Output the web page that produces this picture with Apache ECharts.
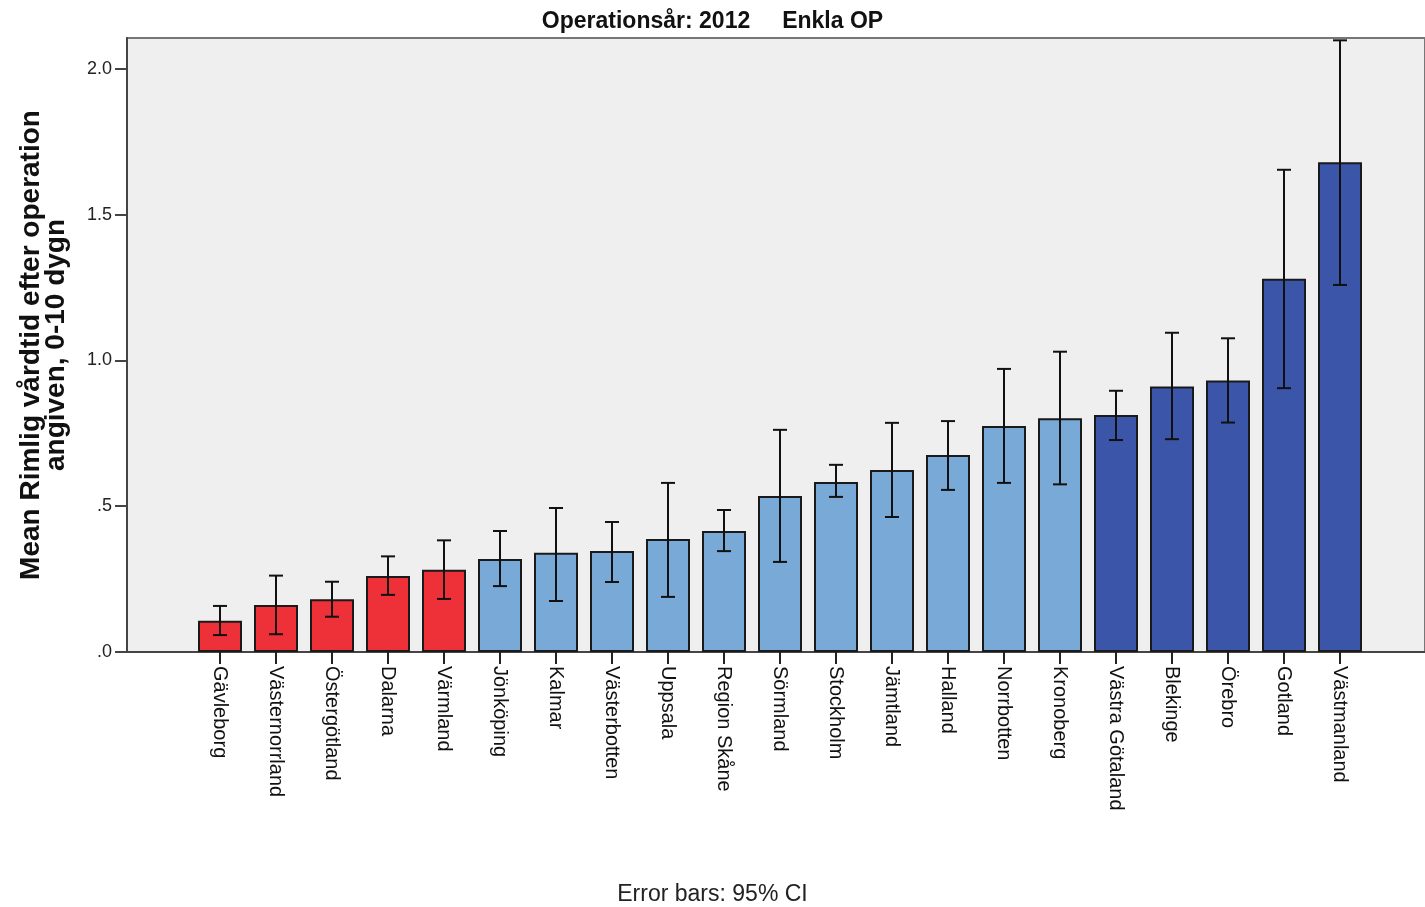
<!DOCTYPE html>
<html>
<head>
<meta charset="utf-8">
<title>Rimlig vårdtid efter operation – 2012, Enkla OP</title>
<script src="https://cdn.jsdelivr.net/npm/echarts@6/dist/echarts.min.js"></script>
<style>
  html, body { margin: 0; padding: 0; background: #ffffff; }
  #chart { width: 1425px; height: 907px; }
</style>
</head>
<body>
<div id="chart"></div>
<script>
// Regions ordered by mean, with 95% confidence limits
const regions = ['Gävleborg', 'Västernorrland', 'Östergötland', 'Dalarna', 'Värmland',
  'Jönköping', 'Kalmar', 'Västerbotten', 'Uppsala', 'Region Skåne', 'Sörmland',
  'Stockholm', 'Jämtland', 'Halland', 'Norrbotten', 'Kronoberg',
  'Västra Götaland', 'Blekinge', 'Örebro', 'Gotland', 'Västmanland'];
const means  = [0.107, 0.161, 0.181, 0.261, 0.282, 0.319, 0.340, 0.346, 0.388, 0.415, 0.535,
  0.583, 0.624, 0.676, 0.775, 0.802, 0.813, 0.911, 0.931, 1.280, 1.680];
const ciLow  = [0.058, 0.061, 0.121, 0.196, 0.182, 0.226, 0.175, 0.240, 0.189, 0.346, 0.309,
  0.532, 0.463, 0.556, 0.580, 0.575, 0.727, 0.730, 0.787, 0.905, 1.259];
const ciHigh = [0.158, 0.262, 0.241, 0.328, 0.383, 0.415, 0.494, 0.446, 0.580, 0.487, 0.762,
  0.642, 0.786, 0.792, 0.971, 1.030, 0.896, 1.095, 1.076, 1.654, 2.098];
// Colour group per region: low / middle / high
const groups = ['low', 'low', 'low', 'low', 'low',
  'mid', 'mid', 'mid', 'mid', 'mid', 'mid', 'mid', 'mid', 'mid', 'mid', 'mid',
  'high', 'high', 'high', 'high', 'high'];
const yTicks = [0, 0.5, 1, 1.5, 2];
const yTickLabels = ['.0', '.5', '1.0', '1.5', '2.0'];

const groupColors = { low: '#ee3039', mid: '#79a9d6', high: '#3b55a8' };
const Y_MAX = 2.106;
const FONT = '"Liberation Sans", Arial, Helvetica, sans-serif';

const chart = echarts.init(document.getElementById('chart'), null, { renderer: 'canvas' });

const option = {
  backgroundColor: '#ffffff',
  animation: false,
  title: {
    text: 'Operationsår: 2012     Enkla OP',
    left: 'center',
    top: 5,
    textStyle: { fontFamily: FONT, fontSize: 23, fontWeight: 'bold', color: '#111' }
  },
  graphic: [{
    type: 'text',
    left: 'center',
    top: 883,
    style: { text: 'Error bars: 95% CI', font: '23px ' + FONT, fill: '#222' }
  }],
  grid: [
    // frame with shaded background and the value axis
    { left: 127, top: 38, right: -3, bottom: 255, show: true,
      backgroundColor: '#efefef', borderColor: '#777', borderWidth: 2 },
    // band area holding the bars
    { left: 192, top: 38, width: 1176, bottom: 255 }
  ],
  xAxis: [
    { gridIndex: 0, type: 'value', min: 0, max: 1,
      axisLine: { show: true, onZero: false, lineStyle: { color: '#444', width: 2 } },
      axisTick: { show: false }, axisLabel: { show: false }, splitLine: { show: false } },
    { gridIndex: 1, type: 'category', data: regions,
      axisLine: { show: false },
      axisTick: { show: true, alignWithLabel: true, length: 12, lineStyle: { color: '#222', width: 2 } },
      axisLabel: { rotate: -90, margin: 14, interval: 0, fontFamily: FONT, fontSize: 20, color: '#111' },
      splitLine: { show: false } }
  ],
  yAxis: [
    { gridIndex: 0, type: 'value', min: 0, max: Y_MAX,
      name: 'Mean Rimlig vårdtid efter operation\nangiven, 0-10 dygn',
      nameLocation: 'middle', nameRotate: 90, nameGap: 58,
      nameTextStyle: { fontFamily: FONT, fontSize: 28, fontWeight: 'bold', color: '#111', lineHeight: 25 },
      axisLine: { show: true, lineStyle: { color: '#444', width: 2 } },
      axisTick: { show: true, length: 12, customValues: yTicks, lineStyle: { color: '#444', width: 2 } },
      axisLabel: { customValues: yTicks, margin: 15, fontFamily: FONT, fontSize: 18, color: '#222',
        formatter: v => yTickLabels[yTicks.indexOf(Math.round(v * 10) / 10)] || '' },
      splitLine: { show: false } },
    { gridIndex: 1, type: 'value', min: 0, max: Y_MAX, show: false, splitLine: { show: false } }
  ],
  series: [
    {
      type: 'bar',
      xAxisIndex: 1, yAxisIndex: 1,
      barWidth: 44,
      data: means.map((v, i) => ({
        value: v,
        itemStyle: { color: groupColors[groups[i]] }
      })),
      itemStyle: { borderColor: '#1a1a1a', borderWidth: 2 },
      z: 2
    },
    {
      type: 'custom',
      xAxisIndex: 1, yAxisIndex: 1,
      clip: false,
      z: 3,
      data: regions.map((r, i) => [i, ciLow[i], ciHigh[i]]),
      encode: { x: 0, y: [1, 2] },
      renderItem: function (params, api) {
        const i = api.value(0);
        const lo = api.coord([i, api.value(1)]);
        const hi = api.coord([i, api.value(2)]);
        const half = 7;
        const style = { stroke: '#111', lineWidth: 2 };
        return {
          type: 'group',
          children: [
            { type: 'line', shape: { x1: lo[0], y1: lo[1], x2: hi[0], y2: hi[1] }, style },
            { type: 'line', shape: { x1: hi[0] - half, y1: hi[1], x2: hi[0] + half, y2: hi[1] }, style },
            { type: 'line', shape: { x1: lo[0] - half, y1: lo[1], x2: lo[0] + half, y2: lo[1] }, style }
          ]
        };
      }
    }
  ]
};

chart.setOption(option);
</script>
</body>
</html>
